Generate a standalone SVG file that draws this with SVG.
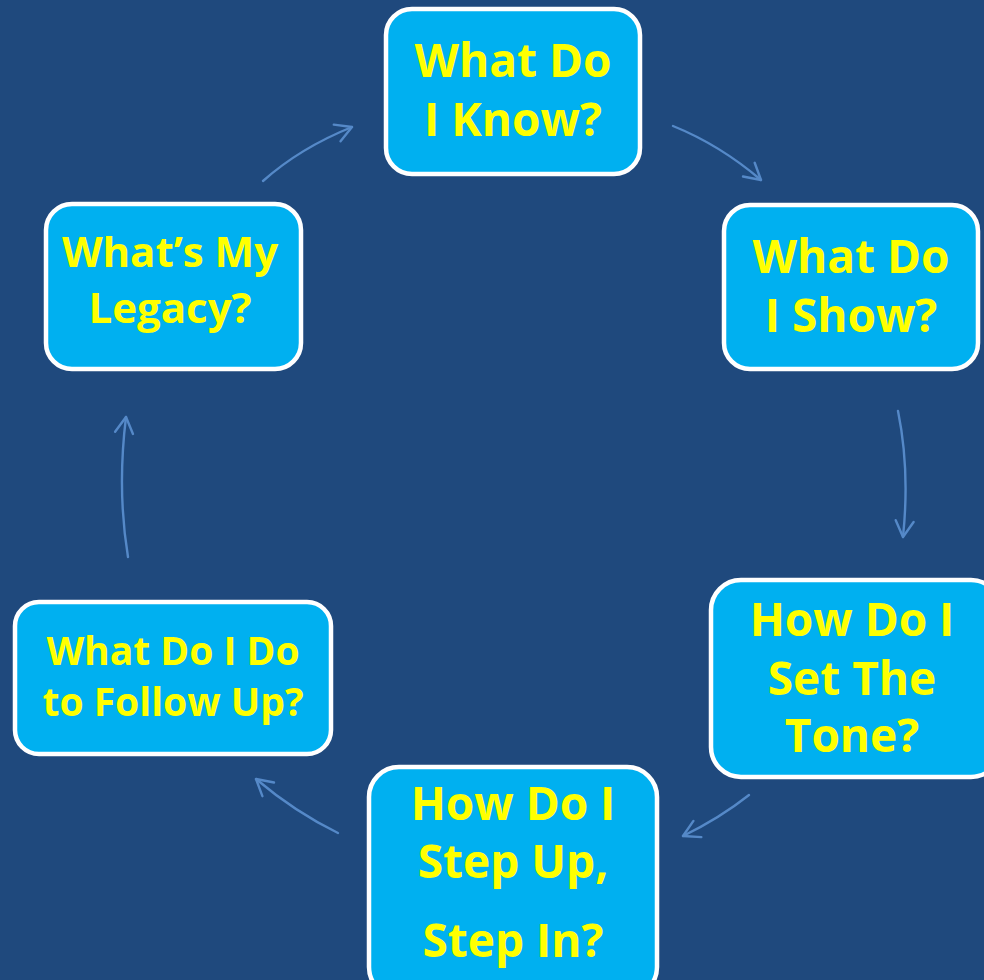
<svg xmlns="http://www.w3.org/2000/svg" width="984" height="980" viewBox="0 0 984 980">
<defs>
<style>
.box{fill:#00b0f0;stroke:#ffffff;stroke-width:4.5}
.t{font-family:"Open Sans","Liberation Sans",sans-serif;font-weight:bold;fill:#ffff00;text-anchor:middle}
.big{font-size:46px}
.mid{font-size:42px}
.sm{font-size:39px}
.c{fill:none;stroke:#5589c8;stroke-width:2.4;stroke-linecap:round}
</style>
<marker id="ah" markerUnits="userSpaceOnUse" markerWidth="30" markerHeight="30" viewBox="-20 -15 30 30" refX="0" refY="0" orient="auto">
<path d="M-16,-9 L0,0 L-16,9" fill="none" stroke="#5589c8" stroke-width="2.4" stroke-linecap="round" stroke-linejoin="round"/>
</marker>
</defs>
<rect width="984" height="980" fill="#1f497d"/>
<g id="connectors">
<path class="c" d="M263,181 Q300,148 352,127" marker-end="url(#ah)"/>
<path class="c" d="M673,126 Q720,145 761,180" marker-end="url(#ah)"/>
<path class="c" d="M898,411 Q910,470 903,537" marker-end="url(#ah)"/>
<path class="c" d="M749,795 Q720,818 683,836" marker-end="url(#ah)"/>
<path class="c" d="M338,833 Q295,812 256,779" marker-end="url(#ah)"/>
<path class="c" d="M128,557 Q117,490 126,417" marker-end="url(#ah)"/>
</g>
<g id="n1">
<rect class="box" x="386" y="9" width="254" height="165" rx="26"/>
<text class="t big" x="513" y="77">What Do</text>
<text class="t big" x="513" y="136">I Know?</text>
</g>
<g id="n2">
<rect class="box" x="724" y="205" width="254" height="164" rx="26"/>
<text class="t big" x="851" y="273">What Do</text>
<text class="t big" x="851" y="332">I Show?</text>
</g>
<g id="n3">
<rect class="box" x="711" y="580" width="290" height="197" rx="30"/>
<text class="t big" x="852" y="636">How Do I</text>
<text class="t big" x="852" y="695">Set The</text>
<text class="t big" x="852" y="752">Tone?</text>
</g>
<g id="n4">
<rect class="box" x="369" y="767" width="288" height="230" rx="30"/>
<text class="t big" x="513" y="820">How Do I</text>
<text class="t big" x="513" y="878">Step Up,</text>
<text class="t big" x="513" y="957">Step In?</text>
</g>
<g id="n5">
<rect class="box" x="15" y="602" width="316" height="152" rx="24"/>
<text class="t sm" x="173" y="665">What Do I Do</text>
<text class="t sm" x="173" y="716">to Follow Up?</text>
</g>
<g id="n6">
<rect class="box" x="46" y="204" width="255" height="165" rx="26"/>
<text class="t mid" x="170" y="267">What’s My</text>
<text class="t mid" x="170" y="323">Legacy?</text>
</g>
</svg>
